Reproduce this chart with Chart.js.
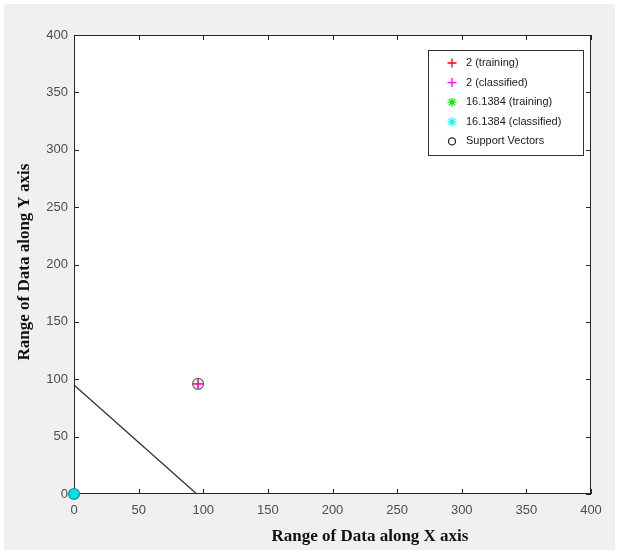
<!DOCTYPE html>
<html><head><meta charset="utf-8">
<script src="https://cdn.jsdelivr.net/npm/chart.js@4/dist/chart.umd.min.js"></script>
<style>html,body{margin:0;padding:0;background:#fff}#wrap{width:619px;height:550px}</style>
</head><body><div id="wrap"><canvas id="c" width="619" height="550"></canvas></div>
<script>
const xTicks = [0,50,100,150,200,250,300,350,400];
const yTicks = [0,50,100,150,200,250,300,350,400];
const training2 = [{x:96,y:96}];
const classified2 = [{x:96,y:96}];
const training16 = [{x:0,y:0}];
const classified16 = [{x:0,y:0}];
const supportVectors = [{x:96,y:96}];
const boundary = [{x:0,y:95},{x:95,y:0}];
const legendLabels = ['2 (training)','2 (classified)','16.1384 (training)','16.1384 (classified)','Support Vectors'];
const xTitle = 'Range of Data along X axis';
const yTitle = 'Range of Data along Y axis';
const tickFont = '"Liberation Sans", Arial, sans-serif';

const bgPlugin = {
  id:'bg',
  beforeDraw(chart){
    const {ctx, chartArea:a} = chart;
    ctx.save();
    ctx.fillStyle='#ffffff'; ctx.fillRect(0,0,chart.width,chart.height);
    ctx.fillStyle='#f0f0f0'; ctx.fillRect(4,4,chart.width-8,chart.height-4);
    ctx.fillStyle='#ffffff'; ctx.fillRect(a.left,a.top,a.right-a.left,a.bottom-a.top);
    ctx.restore();
  },
  beforeDatasetsDraw(chart){
    const {ctx, chartArea:a, scales} = chart;
    ctx.save();
    ctx.strokeStyle='#262626'; ctx.lineWidth=1;
    ctx.strokeRect(a.left+0.5,a.top+0.5,a.right-a.left-1,a.bottom-a.top-1);
    ctx.beginPath();
    xTicks.forEach(v=>{const px=Math.round(scales.x.getPixelForValue(v))+0.5;
      ctx.moveTo(px,a.bottom); ctx.lineTo(px,a.bottom-5);
      ctx.moveTo(px,a.top); ctx.lineTo(px,a.top+5);});
    yTicks.forEach(v=>{const py=Math.round(scales.y.getPixelForValue(v))+0.5;
      ctx.moveTo(a.left,py); ctx.lineTo(a.left+5,py);
      ctx.moveTo(a.right,py); ctx.lineTo(a.right-5,py);});
    ctx.stroke();
    ctx.fillStyle='#111';
    ctx.textAlign='center'; ctx.textBaseline='middle';
    ctx.font='bold 17px "Liberation Serif", "Times New Roman", serif';
    ctx.fillText(xTitle,370,537);
    ctx.save();
    ctx.translate(25,262); ctx.rotate(-Math.PI/2);
    ctx.fillText(yTitle,0,0);
    ctx.restore();
    ctx.restore();
  },
  afterDatasetsDraw(chart){
    const {ctx} = chart;
    ctx.save();
    const lx=428, ly=50, lw=155, lh=105;
    ctx.fillStyle='#fff'; ctx.fillRect(lx,ly,lw,lh);
    ctx.strokeStyle='#333'; ctx.lineWidth=1; ctx.strokeRect(lx+0.5,ly+0.5,lw,lh);
    const colors=['#ff0000','#ff00ff','#00ee00','#00ffff','#222'];
    const styles=['cross','cross','star','star','circle'];
    ctx.font='11px "Liberation Sans", Arial, sans-serif';
    ctx.textBaseline='middle';
    legendLabels.forEach((t,i)=>{
      const yy=ly+13+i*19.6;
      ctx.strokeStyle=colors[i];
      ctx.lineWidth=1.3;
      ctx.beginPath();
      if(styles[i]==='circle'){ctx.arc(452,yy,3.5,0,Math.PI*2);}
      else {ctx.moveTo(452-4.5,yy);ctx.lineTo(452+4.5,yy);ctx.moveTo(452,yy-4.5);ctx.lineTo(452,yy+4.5);
        if(styles[i]==='star'){const d=3.2;ctx.moveTo(452-d,yy-d);ctx.lineTo(452+d,yy+d);ctx.moveTo(452-d,yy+d);ctx.lineTo(452+d,yy-d);}}
      ctx.stroke();
      ctx.fillStyle='#1a1a1a';
      ctx.fillText(t,466,yy);
    });
    ctx.restore();
  }
};

new Chart(document.getElementById('c'),{
  type:'scatter',
  data:{datasets:[
    {label:'boundary',type:'line',order:6,clip:false,data:boundary,borderColor:'#333',borderWidth:1.3,pointRadius:0,fill:false},
    {label:legendLabels[0],order:5,clip:false,data:training2,pointStyle:'cross',pointRadius:5,borderColor:'#ff0000',borderWidth:1.2},
    {label:legendLabels[1],order:4,clip:false,data:classified2,pointStyle:'cross',pointRadius:5,borderColor:'#ff00ff',borderWidth:1.2},
    {label:legendLabels[2],order:3,clip:false,data:training16,pointStyle:'star',pointRadius:5,borderColor:'#00ee00',borderWidth:1.2},
    {label:legendLabels[3],order:2,clip:false,data:classified16,pointStyle:'circle',pointRadius:5.5,backgroundColor:'#00e0e0',borderColor:'#1a9090',borderWidth:1.2},
    {label:legendLabels[4],order:1,clip:false,data:supportVectors,pointStyle:'circle',pointRadius:5.5,backgroundColor:'rgba(0,0,0,0)',borderColor:'#666',borderWidth:1.2}
  ]},
  options:{
    responsive:false,animation:false,
    layout:{padding:{left:0,top:35,right:28,bottom:0}},
    plugins:{legend:{display:false},tooltip:{enabled:false}},
    scales:{
      x:{type:'linear',min:0,max:400,
        afterBuildTicks(s){s.ticks=xTicks.map(v=>({value:v}));},
        afterFit(s){s.height=56;},
        grid:{display:false,drawTicks:false},border:{display:false},
        ticks:{color:'#4d4d4d',font:{family:tickFont,size:13},padding:9},
        title:{display:false}
      },
      y:{type:'linear',min:0,max:400,
        afterBuildTicks(s){s.ticks=yTicks.map(v=>({value:v}));},
        afterFit(s){s.width=74;},
        grid:{display:false,drawTicks:false},border:{display:false},
        ticks:{color:'#4d4d4d',font:{family:tickFont,size:13},padding:6},
        title:{display:false}
      }
    }
  },
  plugins:[bgPlugin]
});
</script></body></html>
